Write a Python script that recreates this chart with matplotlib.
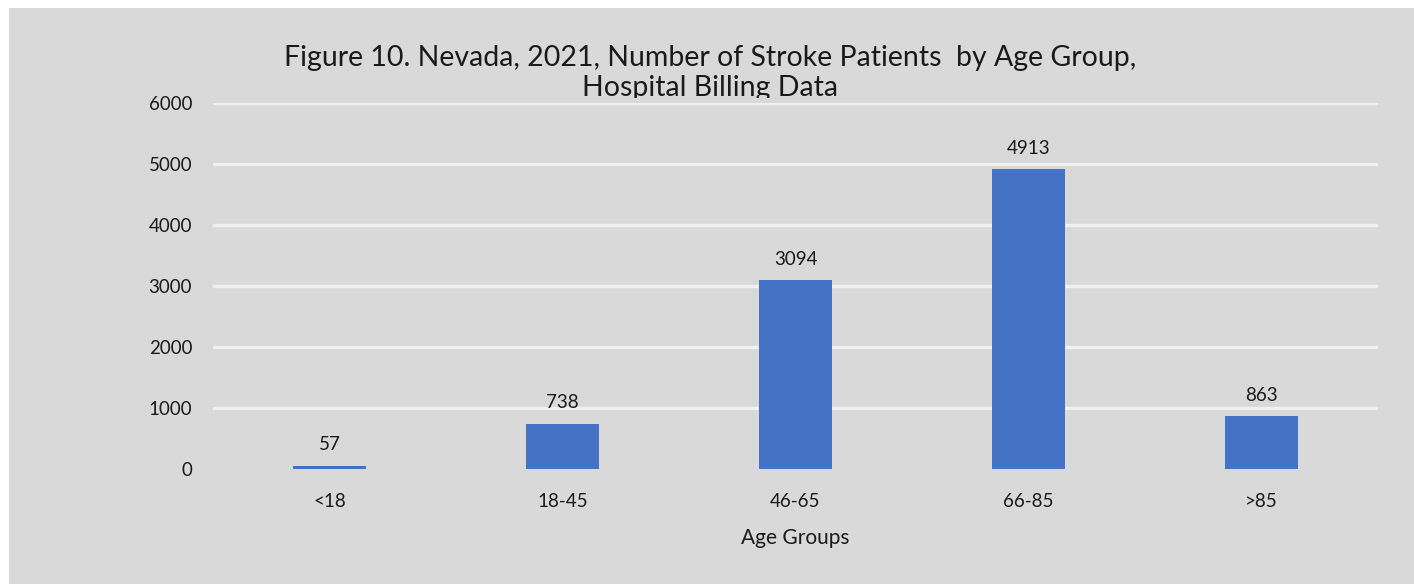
import matplotlib
matplotlib.use('Agg')
import matplotlib.pyplot as plt
from matplotlib.patches import Rectangle
from matplotlib.transforms import Bbox, TransformedBbox

plt.rcParams['font.family'] = ['Lato', 'DejaVu Sans']

# datos del gráfico
grupos = ['<18', '18-45', '46-65', '66-85', '>85']
pacientes = [57, 738, 3094, 4913, 863]
ticks_y = [0, 1000, 2000, 3000, 4000, 5000, 6000]

fig = plt.figure(figsize=(14.14, 5.84), dpi=100)
fig.patch.set_facecolor('white')

# fondo gris del gráfico (con borde blanco arriba e izquierda)
fondo = Rectangle((9 / 1414, 0), 1 - 9 / 1414, 1 - 8 / 584, transform=fig.transFigure,
                  facecolor='#d9d9d9', edgecolor='none', zorder=-10)
fig.patches.append(fondo)

ax = fig.add_axes([213 / 1414, 1 - 469 / 584, (1378 - 213) / 1414, (469 - 103) / 584])
ax.set_facecolor('none')

barras = ax.bar(range(len(grupos)), pacientes, width=0.31, color='#4472c4', zorder=3)

for i, v in enumerate(pacientes):
    ax.annotate(str(v), (i, v), xytext=(0, 9), textcoords='offset points',
                ha='center', va='bottom', fontsize=13.5, color='#1a1a1a')

ax.set_xlim(-0.5, len(grupos) - 0.5)
ax.set_ylim(0, 6000)
ax.set_yticks(ticks_y)
ax.set_yticklabels([str(t) for t in ticks_y])
ax.set_xticks(range(len(grupos)))
ax.set_xticklabels(grupos)
ax.tick_params(axis='both', length=0, labelsize=13.5, labelcolor='#1a1a1a')
ax.tick_params(axis='y', pad=15)
ax.tick_params(axis='x', pad=17)

ax.grid(axis='y', color='#f0f0f0', linewidth=2.4, zorder=1)
ax.yaxis.get_gridlines()[0].set_visible(False)
for s in ax.spines.values():
    s.set_visible(False)

ax.set_xlabel('Age Groups', fontsize=15, color='#1a1a1a', labelpad=13)

# título (cortado por la línea superior como en el original)
titulo = fig.text(710 / 1414, 1 - 73 / 584,
                  'Figure 10. Nevada, 2021, Number of Stroke Patients  by Age Group,\nHospital Billing Data',
                  ha='center', va='center', fontsize=20.5, color='#1a1a1a', linespacing=1.15)
corte = TransformedBbox(Bbox([[0, 1 - 98 / 584], [1, 1]]), fig.transFigure)
titulo.set_clip_box(corte)
titulo.set_clip_on(True)

fig.savefig('out.png', dpi=100)
